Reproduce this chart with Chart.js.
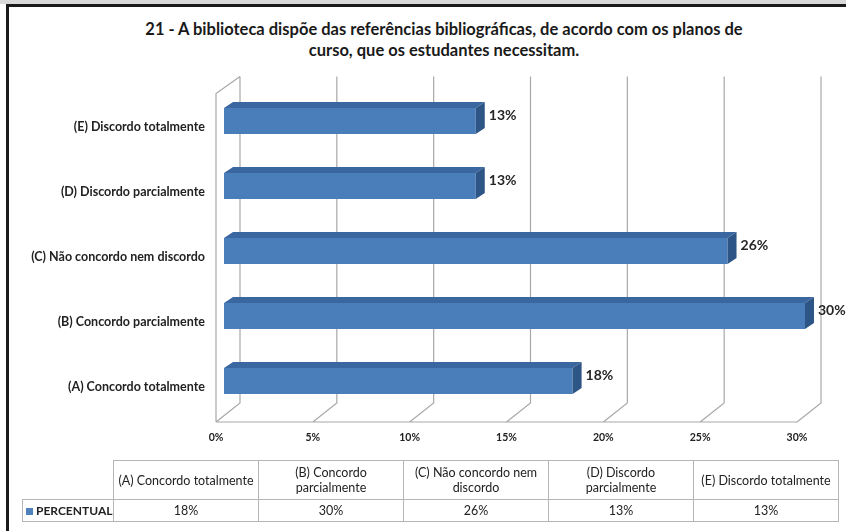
<!DOCTYPE html>
<html>
<head>
<meta charset="utf-8">
<script src="https://cdn.jsdelivr.net/npm/chart.js@4.4.1/dist/chart.umd.min.js"></script>
<style>
  html, body { margin: 0; padding: 0; background: #fff; }
  body { width: 846px; height: 531px; position: relative; overflow: hidden; font-family: Lato, "Open Sans", sans-serif; }
  #band { position: absolute; left: 0; top: 0; width: 846px; height: 4px; background: #d9d9d9; }
  #frameTop { position: absolute; left: 6px; top: 4px; width: 840px; height: 3px; background: #1a1a1a; }
  #frameLeft { position: absolute; left: 6px; top: 4px; width: 3px; height: 527px; background: #1a1a1a; }
  #title { position: absolute; left: 44px; top: 19px; width: 800px; text-align: center; font-weight: bold; font-size: 16.5px; line-height: 21px; color: #1a1a1a; }
  #chartWrap { position: absolute; left: 0; top: 0; width: 846px; height: 531px; }
  #dataTable { position: absolute; left: 22px; top: 460px; border-collapse: collapse; font-size: 12.5px; color: #222; table-layout: fixed; }
  #dataTable td { border: 1px solid #b5b5b5; text-align: center; padding: 0; line-height: 15px; }
  #dataTable tr.head td { height: 38px; }
  #dataTable tr.vals td { height: 21px; }
  #dataTable td.blank { border-top: none; border-left: none; }
  #dataTable td.rowlab { text-align: left; font-weight: bold; padding-left: 3px; font-size: 12px; }
  .sq { display: inline-block; width: 7px; height: 7px; background: #4f81bd; margin-right: 3px; }
</style>
</head>
<body>
<div id="band"></div>
<div id="frameTop"></div>
<div id="frameLeft"></div>
<div id="title">21 - A biblioteca dispõe das referências bibliográficas, de acordo com os planos de<br>curso, que os estudantes necessitam.</div>
<div id="chartWrap"><canvas id="chart" width="846" height="531"></canvas></div>
<table id="dataTable"></table>
<script>
const categories = [
  '(A) Concordo totalmente',
  '(B) Concordo parcialmente',
  '(C) Não concordo nem discordo',
  '(D) Discordo parcialmente',
  '(E) Discordo totalmente',
];
// header text in the table wraps like the original
const tableHeaders = [
  '(A) Concordo totalmente',
  '(B) Concordo<br>parcialmente',
  '(C) Não concordo nem<br>discordo',
  '(D) Discordo<br>parcialmente',
  '(E) Discordo totalmente',
];
const seriesName = 'PERCENTUAL';
const percentual = [18, 30, 26, 13, 13];
const xTicks = [0, 5, 10, 15, 20, 25, 30];

// data table under the chart
const table = document.getElementById('dataTable');
let html = '<colgroup><col style="width:91px">' + categories.map(() => '<col style="width:145px">').join('') + '</colgroup>';
html += '<tr class="head"><td class="blank"></td>' + tableHeaders.map(h => '<td>' + h + '</td>').join('') + '</tr>';
html += '<tr class="vals"><td class="rowlab"><span class="sq"></span>' + seriesName + '</td>' + percentual.map(v => '<td>' + v + '%</td>').join('') + '</tr>';
table.innerHTML = html;

const GRID = '#a8a8a8';
const FRONT = { dx: -8, dy: 8.5 };
const BACK = { dx: 16, dy: -10.5 };

// 3d box: back wall gridlines, floor, left wall
const wallsPlugin = {
  id: 'walls',
  beforeDatasetsDraw(chart) {
    const { ctx, chartArea, scales } = chart;
    const xs = scales.x;
    const backTop = chartArea.top - 12;
    const frontTop = backTop + 17;
    const frontFloor = chartArea.bottom + FRONT.dy;
    const backFloor = chartArea.bottom + BACK.dy;
    ctx.save();
    ctx.strokeStyle = GRID;
    ctx.lineWidth = 1.2;
    ctx.beginPath();
    xTicks.forEach(v => {
      const px = xs.getPixelForValue(v);
      ctx.moveTo(px + BACK.dx, backTop);
      ctx.lineTo(px + BACK.dx, backFloor);
      ctx.lineTo(px + FRONT.dx, frontFloor);
    });
    const p0 = xs.getPixelForValue(xTicks[0]);
    const pN = xs.getPixelForValue(xTicks[xTicks.length - 1]);
    ctx.moveTo(p0 + FRONT.dx, frontFloor);
    ctx.lineTo(pN + FRONT.dx, frontFloor);
    ctx.moveTo(p0 + FRONT.dx, frontFloor);
    ctx.lineTo(p0 + FRONT.dx, frontTop);
    ctx.lineTo(p0 + BACK.dx, backTop);
    ctx.stroke();
    ctx.restore();
  }
};

// top and side faces of the bars + value labels
const bars3dPlugin = {
  id: 'bars3d',
  afterDatasetsDraw(chart) {
    const { ctx } = chart;
    const meta = chart.getDatasetMeta(0);
    const d = 9, e = 6;
    ctx.save();
    meta.data.forEach((bar, i) => {
      const { x, y, base, height } = bar.getProps(['x', 'y', 'base', 'height'], true);
      const top = y - height / 2, bottom = y + height / 2;
      ctx.fillStyle = '#3b67a0';
      ctx.beginPath();
      ctx.moveTo(base, top);
      ctx.lineTo(base + d, top - e);
      ctx.lineTo(x + d, top - e);
      ctx.lineTo(x, top);
      ctx.closePath();
      ctx.fill();
      ctx.fillStyle = '#2d5586';
      ctx.beginPath();
      ctx.moveTo(x, top);
      ctx.lineTo(x + d, top - e);
      ctx.lineTo(x + d, bottom - e);
      ctx.lineTo(x, bottom);
      ctx.closePath();
      ctx.fill();
      ctx.fillStyle = '#262626';
      ctx.font = 'bold 14px Lato, sans-serif';
      ctx.textAlign = 'left';
      ctx.textBaseline = 'middle';
      ctx.fillText(percentual[i] + '%', x + 13, y - 6);
    });
    ctx.restore();
  }
};

new Chart(document.getElementById('chart'), {
  type: 'bar',
  data: {
    labels: categories,
    datasets: [{
      label: seriesName,
      data: percentual,
      backgroundColor: '#4a7ebb',
      borderWidth: 0,
      categoryPercentage: 1,
      barPercentage: 0.4,
    }],
  },
  options: {
    indexAxis: 'y',
    responsive: false,
    animation: false,
    layout: { padding: { top: 88.5, left: 10, right: 41, bottom: 0 } },
    plugins: { legend: { display: false }, tooltip: { enabled: false } },
    scales: {
      x: {
        min: 0, max: 30,
        afterBuildTicks(scale) { scale.ticks = xTicks.map(v => ({ value: v })); },
        afterFit(scale) { scale.height = 117.5; },
        grid: { display: false, drawTicks: false },
        border: { display: false },
        ticks: {
          callback: v => v + '%',
          font: { family: 'Lato', size: 10.5, weight: 'bold' },
          color: '#222',
          padding: 18,
          labelOffset: -8,
          maxRotation: 0,
        },
      },
      y: {
        reverse: true,
        afterFit(scale) { scale.width = 214; },
        grid: { display: false, drawTicks: false },
        border: { display: false },
        ticks: {
          font: { family: 'Lato', size: 12.5, weight: 'bold' },
          color: '#222',
          padding: 19,
          labelOffset: 6,
        },
      },
    },
  },
  plugins: [wallsPlugin, bars3dPlugin],
});
</script>
</body>
</html>
